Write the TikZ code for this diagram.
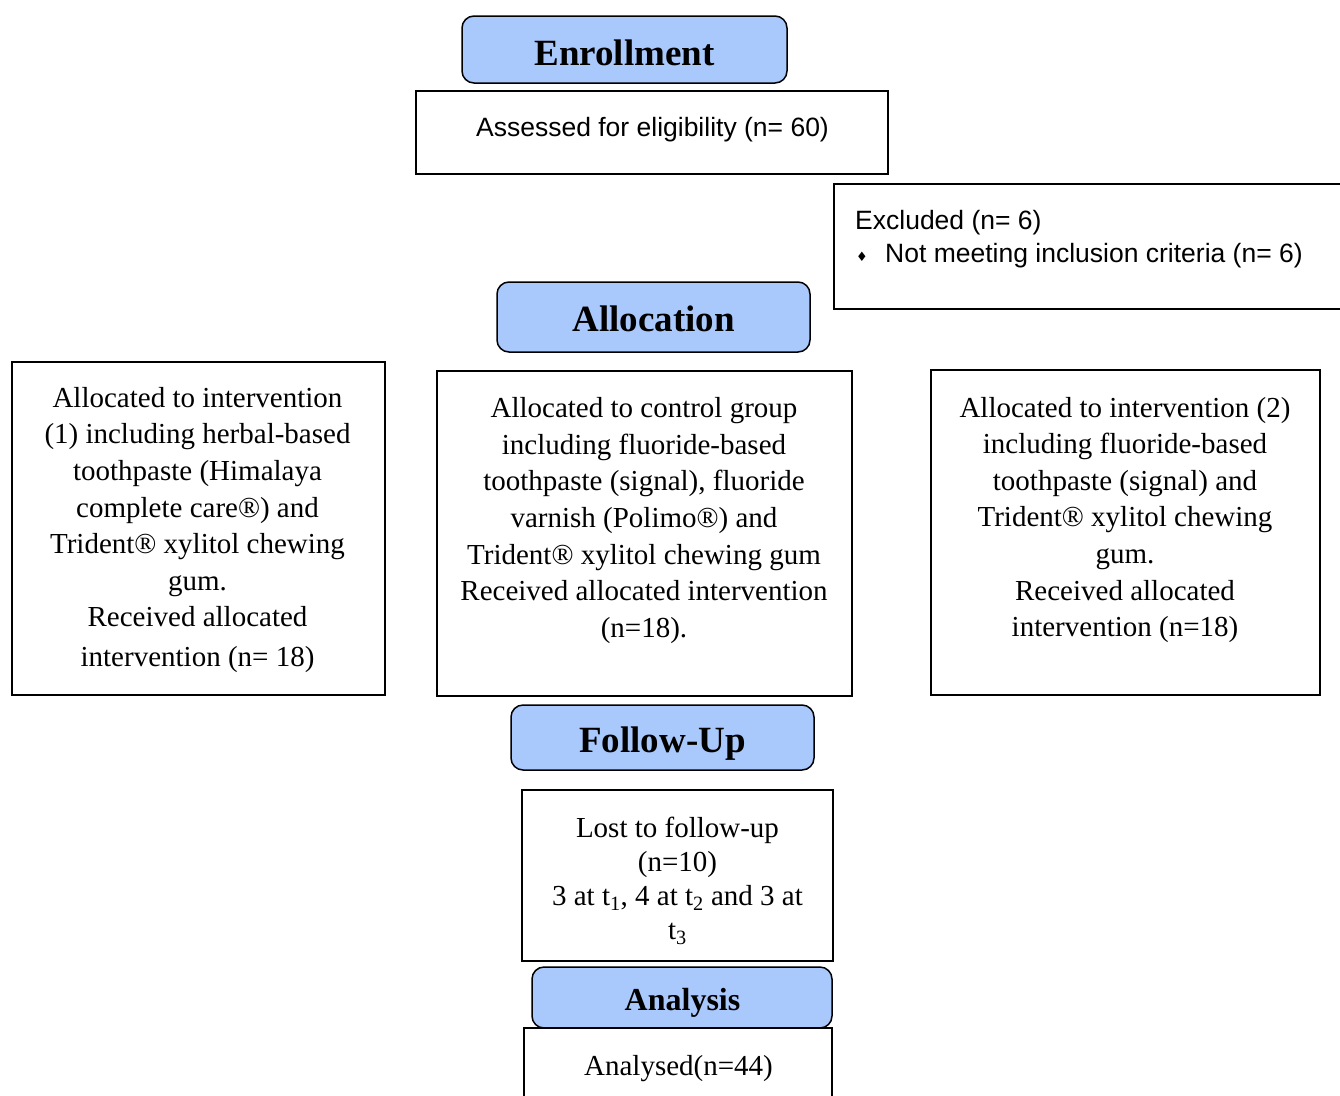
\documentclass[tikz,border=0pt]{standalone}
\usepackage{fontspec}
\setmainfont{Liberation Serif}
\newfontfamily\arialf{Liberation Sans}
\newfontfamily\dejavu{DejaVu Sans}
\definecolor{hdrblue}{HTML}{A9C8FB}
\tikzset{
  hdr/.style={draw=black, line width=1.5pt, fill=hdrblue, rounded corners=12pt, inner sep=0pt},
  hdrtxt/.style={font=\fontsize{37}{40}\selectfont\bfseries, inner sep=0pt},
  plainbox/.style={draw=black, line width=1.5pt, inner sep=0pt},
  bodytxt/.style={font=\fontsize{29}{36.6}\selectfont, align=center, inner sep=0pt},
  sanstxt/.style={font=\arialf\fontsize{26.5}{33}\selectfont, inner sep=0pt},
}
\begin{document}
\begin{tikzpicture}[x=1pt,y=-1pt]
\useasboundingbox (0,0) rectangle (1340,1095);
% Enrollment
\node[hdr, minimum width=325pt, minimum height=67pt] (enroll) at (624.5,49.5) {};
\node[hdrtxt] (enrolltxt) at (624.5,52.5) {Enrollment};
\node[plainbox, minimum width=472pt, minimum height=83pt] (assessbox) at (652,132.5) {};
\node[sanstxt] (assesstxt) at (652.5,130) {Assessed for eligibility (n= 60)};
% Excluded
\node[plainbox, minimum width=516pt, minimum height=125pt] (exclbox) at (1092,246.5) {};
\node[sanstxt, anchor=west] (excltitle) at (855,223) {Excluded (n= 6)};
\node[font=\dejavu\fontsize{13}{13}\selectfont, inner sep=0pt] (exclbullet) at (862,257) {♦};
\node[sanstxt, anchor=west] (exclitem) at (885,256) {Not meeting inclusion criteria (n= 6)};
% Allocation
\node[hdr, minimum width=313pt, minimum height=70pt] (alloc) at (653.5,317) {};
\node[hdrtxt] (alloctxt) at (653.5,318.5) {Allocation};
\node[plainbox, minimum width=373pt, minimum height=333pt] (leftbox) at (198.5,528.5) {};
\node[bodytxt] (lefttxt) at (197.5,530) {Allocated to intervention\\(1) including herbal-based\\toothpaste (Himalaya\\complete care®) and\\Trident® xylitol chewing\\gum.\\Received allocated\\[3pt]intervention (n= 18)};
\node[plainbox, minimum width=415pt, minimum height=325pt] (centerbox) at (644.5,533.5) {};
\node[bodytxt] (centertxt) at (644,520.5) {Allocated to control group\\including fluoride-based\\toothpaste (signal), fluoride\\varnish (Polimo®) and\\Trident® xylitol chewing gum\\Received allocated intervention\\(n=18).};
\node[plainbox, minimum width=389pt, minimum height=325pt] (rightbox) at (1125.5,532.5) {};
\node[bodytxt] (righttxt) at (1125,520) {Allocated to intervention (2)\\including fluoride-based\\toothpaste (signal) and\\Trident® xylitol chewing\\gum.\\Received allocated\\intervention (n=18)};
% Follow-up
\node[hdr, minimum width=303pt, minimum height=65pt] (follow) at (662.5,737.5) {};
\node[hdrtxt] (followtxt) at (662.5,744) {Follow-Up};
\node[plainbox, minimum width=311pt, minimum height=171pt] (lostbox) at (677.5,875.5) {};
\node[bodytxt, font=\fontsize{29}{34}\selectfont] (losttxt) at (677.5,881) {Lost to follow-up\\(n=10)\\3 at t\textsubscript{1}, 4 at t\textsubscript{2} and 3 at\\t\textsubscript{3}};
% Analysis
\node[hdr, minimum width=300pt, minimum height=61pt] (analysis) at (682,997.5) {};
\node[hdrtxt, font=\fontsize{32}{36}\selectfont\bfseries] (analysistxt) at (682.5,1002.5) {Analysis};
\node[plainbox, minimum width=308pt, minimum height=100pt] (analysedbox) at (678,1078) {};
\node[bodytxt] (analysedtxt) at (678.5,1069) {Analysed(n=44)};
\end{tikzpicture}
\end{document}
